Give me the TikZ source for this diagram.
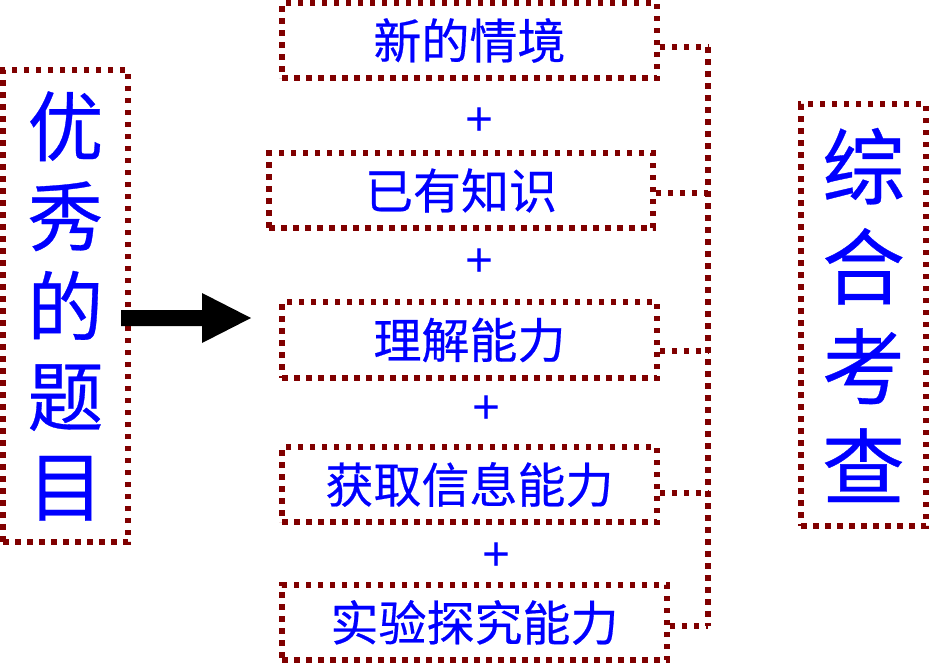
\documentclass[tikz,border=0pt]{standalone}
\usepackage{fontspec}
\newfontfamily\cjk[FakeBold=0.4]{Noto Sans CJK SC}
\newfontfamily\plusfont{Liberation Sans}
\definecolor{dotred}{HTML}{800000}
\definecolor{txtblue}{HTML}{0000FF}
\begin{document}
\begin{tikzpicture}[x=1pt,y=-1pt,
  dotbox/.style={draw=dotred, line width=5.5pt, dash pattern=on 5.5pt off 6.5pt, rectangle, inner sep=0pt, text=txtblue},
  boxtext/.style={font=\cjk\fontsize{48}{48}\selectfont},
  plussign/.style={text=txtblue, font=\plusfont\fontsize{48}{48}\selectfont, inner sep=0pt},
  brk/.style={draw=dotred, line width=5.5pt, dash pattern=on 5.5pt off 6.5pt}]
\useasboundingbox (0,0) rectangle (930,664);
% left box
\node[dotbox, minimum width=125pt, minimum height=472pt, font=\cjk\fontsize{76}{90}\selectfont, align=center] (left) at (65.5,306) {优\\秀\\的\\题\\目};
% right box
\node[dotbox, minimum width=125pt, minimum height=422pt, font=\cjk\fontsize{83}{100}\selectfont, align=center] (right) at (863.5,315) {综\\合\\考\\查};
% middle boxes
\node[dotbox, boxtext, minimum width=375pt, minimum height=75pt] (b1) at (469.5,40.5) {新的情境};
\node[dotbox, boxtext, minimum width=384pt, minimum height=75pt] (b2) at (461,190.5) {已有知识};
\node[dotbox, boxtext, minimum width=375pt, minimum height=76pt] (b3) at (469.5,340) {理解能力};
\node[dotbox, boxtext, minimum width=375pt, minimum height=75pt] (b4) at (469.5,484.5) {获取信息能力};
\node[dotbox, boxtext, minimum width=385pt, minimum height=75pt] (b5) at (474.5,622.5) {实验探究能力};
% plus signs
\node[plussign] (p1) at (480,122) {+};
\node[plussign] (p2) at (480,263) {+};
\node[plussign] (p3) at (487,410) {+};
\node[plussign] (p4) at (497,557) {+};
% arrow
\fill[black] (121,310) -- (202,310) -- (202,293) -- (251,318) -- (202,343) -- (202,326) -- (121,326) -- cycle;
% bracket
\coordinate (k1) at (708,47);
\coordinate (k2) at (708,193);
\coordinate (k3) at (708,351);
\coordinate (k4) at (708,493);
\coordinate (k5) at (708,626);
\draw[brk] (k1) -- (k5);
\draw[brk] (k1 -| b1.east) -- (k1);
\draw[brk] (k2 -| b2.east) -- (k2);
\draw[brk] (k3 -| b3.east) -- (k3);
\draw[brk] (k4 -| b4.east) -- (k4);
\draw[brk] (k5 -| b5.east) -- (k5);
\end{tikzpicture}
\end{document}
